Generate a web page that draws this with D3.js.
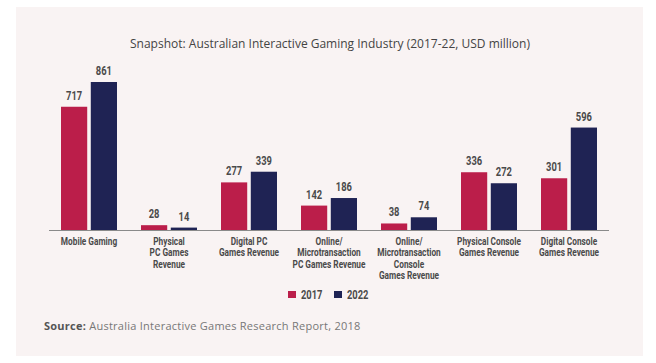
<!DOCTYPE html>
<html>
<head>
<meta charset="utf-8">
<script src="https://cdn.jsdelivr.net/npm/d3@7"></script>
<style>
  body { margin: 0; background: #fff; }
  svg text { fill: #4a4a4a; }
  .val, .cat, .leg { font-family: Roboto, "Liberation Sans", sans-serif; font-weight: bold; }
</style>
</head>
<body>
<svg width="656" height="363"></svg>
<script>
const categories = [
  ["Mobile Gaming"],
  ["Physical", "PC Games", "Revenue"],
  ["Digital PC", "Games Revenue"],
  ["Online/", "Microtransaction", "PC Games Revenue"],
  ["Online/", "Microtransaction", "Console", "Games Revenue"],
  ["Physical Console", "Games Revenue"],
  ["Digital Console", "Games Revenue"]
];
const years = ["2017", "2022"];
const values2017 = [717, 28, 277, 142, 38, 336, 301];
const values2022 = [861, 14, 339, 186, 74, 272, 596];
const colors = ["#bb1e4a", "#1f2354"];

const svg = d3.select("svg");
const squeeze = 0.72; // fake a condensed face

// panel background
svg.append("rect")
  .attr("x", 16).attr("y", 7)
  .attr("width", 627).attr("height", 349)
  .attr("fill", "#f9f3f3");

svg.append("text")
  .attr("x", 330).attr("y", 48)
  .attr("text-anchor", "middle")
  .style("font-family", "'Open Sans', sans-serif")
  .style("font-size", "12px")
  .style("fill", "#444")
  .text("Snapshot: Australian Interactive Gaming Industry (2017-22, USD million)");

const baseY = 230;
const x = d3.scaleBand()
  .domain(d3.range(categories.length))
  .range([49, 609]);
const xs = d3.scaleBand()
  .domain(years)
  .range([0, 56])
  .paddingInner(0.12);
const y = d3.scaleLinear()
  .domain([0, 861])
  .range([baseY, 82]);

const series = [values2017, values2022];
const data = [];
categories.forEach((c, i) => {
  years.forEach((yr, j) => data.push({ i, yr, j, v: series[j][i] }));
});

const g = svg.append("g");
g.selectAll("rect.bar")
  .data(data)
  .enter().append("rect")
  .attr("class", "bar")
  .attr("x", d => x(d.i) + 12 + xs(d.yr))
  .attr("width", xs.bandwidth())
  .attr("y", d => y(d.v))
  .attr("height", d => baseY - y(d.v))
  .attr("fill", d => colors[d.j]);

g.selectAll("text.val")
  .data(data)
  .enter().append("text")
  .attr("class", "val")
  .attr("transform", d => `translate(${x(d.i) + 12 + xs(d.yr) + xs.bandwidth() / 2},${y(d.v) - 7}) scale(${squeeze},1)`)
  .attr("text-anchor", "middle")
  .style("font-size", "13px")
  .text(d => d.v);

// axis baseline
svg.append("line")
  .attr("x1", 49).attr("x2", 609)
  .attr("y1", baseY + 0.5).attr("y2", baseY + 0.5)
  .attr("stroke", "#8a8a8a").attr("stroke-width", 1);

const cat = svg.selectAll("text.cat")
  .data(categories)
  .enter().append("text")
  .attr("class", "cat")
  .attr("text-anchor", "middle")
  .style("font-size", "11.5px")
  .attr("transform", (d, i) => `translate(${x(i) + x.bandwidth() / 2},245) scale(${squeeze},1)`);
cat.selectAll("tspan")
  .data(d => d)
  .enter().append("tspan")
  .attr("x", 0)
  .attr("dy", (d, k) => k === 0 ? 0 : 11.5)
  .text(d => d);

// legend
const legX = [288, 334];
years.forEach((yr, j) => {
  svg.append("rect")
    .attr("x", legX[j]).attr("y", 291)
    .attr("width", 8).attr("height", 7)
    .attr("fill", colors[j]);
  svg.append("text")
    .attr("class", "leg")
    .attr("transform", `translate(${legX[j] + 13},299) scale(${squeeze},1)`)
    .style("font-size", "13px")
    .text(yr);
});

const src = svg.append("text")
  .attr("x", 44).attr("y", 330)
  .style("font-family", "'Open Sans', sans-serif")
  .style("font-size", "11px")
  .style("letter-spacing", "0.25px");
src.append("tspan").style("font-weight", "bold").style("fill", "#555").text("Source: ");
src.append("tspan").style("fill", "#777").text("Australia Interactive Games Research Report, 2018");
</script>
</body>
</html>
